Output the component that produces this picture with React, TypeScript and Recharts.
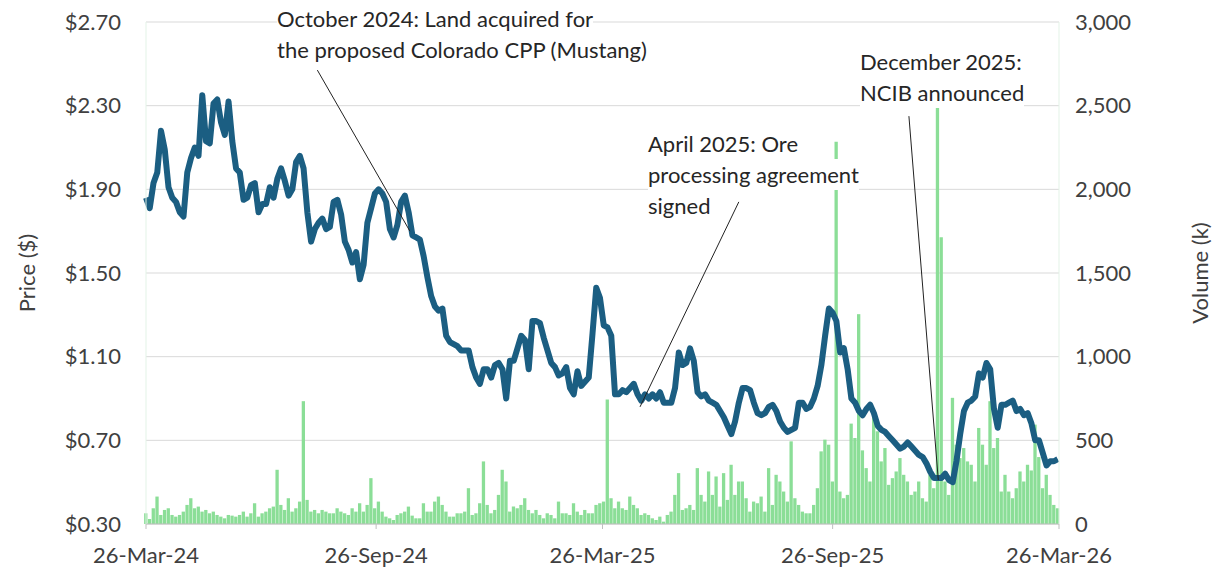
import {
  Bar,
  CartesianGrid,
  ComposedChart,
  Line,
  ReferenceLine,
  XAxis,
  YAxis,
} from "recharts";

const FONT = "Lato, 'Open Sans', sans-serif";
const DAY_MS = 86400000;
const START = Date.parse("2024-03-26");
const STEP_DAYS = 3;

// closing price ($), one reading every 3 days from 26-Mar-24
const prices = [
  1.86, 1.81, 1.93, 1.98, 2.18, 2.09, 1.91, 1.86, 1.84, 1.79, 1.77, 1.98,
  2.05, 2.1, 2.06, 2.35, 2.13, 2.12, 2.31, 2.33, 2.22, 2.16, 2.32, 2.13,
  2.0, 1.98, 1.85, 1.86, 1.92, 1.93, 1.79, 1.83, 1.83, 1.91, 1.86, 1.95,
  2.0, 1.94, 1.87, 1.9, 2.03, 2.06, 2.0, 1.79, 1.65, 1.71, 1.74, 1.76,
  1.71, 1.72, 1.84, 1.85, 1.78, 1.65, 1.61, 1.55, 1.6, 1.47, 1.54, 1.74,
  1.81, 1.88, 1.9, 1.88, 1.84, 1.71, 1.67, 1.73, 1.84, 1.87, 1.79, 1.68,
  1.67, 1.66, 1.58, 1.48, 1.39, 1.34, 1.32, 1.33, 1.2, 1.17, 1.16, 1.15,
  1.13, 1.13, 1.13, 1.05, 1.0, 0.97, 1.04, 1.04, 1.0, 1.06, 1.07, 1.04,
  0.9, 1.08, 1.08, 1.14, 1.2, 1.18, 1.04, 1.27, 1.27, 1.26, 1.19, 1.13,
  1.07, 1.05, 1.01, 1.02, 1.05, 0.95, 0.92, 1.03, 0.96, 0.98, 1.0, 1.21,
  1.43, 1.38, 1.25, 1.24, 1.2, 0.92, 0.92, 0.94, 0.93, 0.95, 0.97, 0.92,
  0.89, 0.92, 0.9, 0.92, 0.9, 0.93, 0.88, 0.88, 0.88, 0.95, 1.12, 1.06,
  1.07, 1.14, 1.08, 0.93, 0.91, 0.92, 0.89, 0.88, 0.87, 0.84, 0.81, 0.77,
  0.73, 0.79, 0.88, 0.95, 0.95, 0.94, 0.88, 0.83, 0.82, 0.83, 0.86, 0.87,
  0.84, 0.79, 0.76, 0.74, 0.75, 0.76, 0.88, 0.88, 0.85, 0.86, 0.9, 0.96,
  1.06, 1.2, 1.33, 1.31, 1.27, 1.12, 1.14, 1.04, 0.9, 0.88, 0.84, 0.82,
  0.85, 0.87, 0.83, 0.77, 0.75, 0.74, 0.72, 0.7, 0.68, 0.66, 0.67, 0.69,
  0.67, 0.65, 0.63, 0.62, 0.59, 0.55, 0.52, 0.52, 0.52, 0.54, 0.51, 0.5,
  0.6, 0.73, 0.84, 0.88, 0.89, 0.91, 1.02, 1.0, 1.07, 1.04, 0.85, 0.76,
  0.87, 0.87, 0.88, 0.89, 0.84, 0.85, 0.82, 0.83, 0.78, 0.7, 0.7, 0.64,
  0.58, 0.6, 0.6, 0.61,
];

// volume (thousands of shares), same dates as prices
const volumes = [
  64, 30, 94, 164, 54, 84, 94, 54, 44, 54, 74, 114,
  154, 94, 104, 74, 84, 64, 74, 54, 44, 34, 54, 50,
  44, 54, 74, 44, 64, 124, 44, 64, 74, 94, 104, 324,
  114, 84, 154, 74, 94, 134, 734, 144, 74, 84, 64, 84,
  74, 64, 64, 94, 74, 64, 54, 94, 74, 124, 74, 114,
  274, 94, 134, 74, 44, 34, 24, 54, 64, 74, 104, 50,
  34, 34, 124, 74, 74, 134, 164, 114, 74, 44, 44, 64,
  64, 74, 214, 54, 64, 124, 374, 114, 64, 84, 174, 324,
  254, 74, 104, 94, 114, 154, 84, 64, 84, 54, 34, 64,
  54, 34, 134, 64, 64, 54, 124, 74, 54, 84, 64, 64,
  114, 124, 134, 744, 154, 94, 134, 94, 84, 164, 114, 94,
  54, 64, 54, 34, 24, 44, 14, 54, 74, 174, 304, 84,
  94, 114, 84, 334, 174, 134, 314, 174, 284, 104, 304, 144,
  354, 174, 254, 254, 154, 74, 134, 124, 164, 74, 334, 114,
  294, 254, 194, 134, 494, 154, 114, 74, 64, 64, 114, 214,
  434, 504, 474, 254, 2284, 194, 154, 174, 600, 514, 1254, 440,
  334, 254, 654, 554, 374, 454, 234, 274, 314, 394, 294, 254,
  174, 194, 254, 154, 134, 294, 214, 2594, 1714, 254, 174, 754,
  474, 394, 454, 374, 354, 254, 574, 474, 354, 734, 454, 514,
  194, 294, 194, 154, 214, 314, 254, 354, 320, 594, 400, 214,
  294, 174, 114, 94,
];

const tickDates = ["2024-03-26", "2024-09-26", "2025-03-26", "2025-09-26", "2026-03-26"];
const tickLabels = ["26-Mar-24", "26-Sep-24", "26-Mar-25", "26-Sep-25", "26-Mar-26"];
const priceTicks = [0.3, 0.7, 1.1, 1.5, 1.9, 2.3, 2.7];
const volumeTicks = [0, 500, 1000, 1500, 2000, 2500, 3000];

// leader lines: [day, price] at the text end and at the chart end
const notes = [
  {
    lines: ["October 2024: Land acquired for", "the proposed Colorado CPP (Mustang)"],
    from: [137, 2.47],
    to: [211, 1.7],
    left: 277,
    top: 3,
  },
  {
    lines: ["April 2025: Ore", "processing agreement", "signed"],
    from: [474, 1.84],
    to: [395, 0.86],
    left: 648,
    top: 128,
  },
  {
    lines: ["December 2025:", "NCIB announced"],
    from: [610, 2.25],
    to: [633.5, 0.51],
    left: 860,
    top: 46,
  },
];

const toDay = (iso: string) => Math.round((Date.parse(iso) - START) / DAY_MS);
const tickDays = tickDates.map(toDay);

const chartData = prices.map((price, i) => ({
  day: i * STEP_DAYS,
  price,
  volume: volumes[i],
}));

const tickStyle = { fontSize: 22, fill: "#404040", fontFamily: FONT };

export default function App() {
  return (
    <div
      style={{
        position: "absolute",
        left: 0,
        top: 0,
        width: 1223,
        height: 569,
        background: "#fff",
        fontFamily: FONT,
      }}
    >
      <ComposedChart
        width={1223}
        height={569}
        data={chartData}
        margin={{ top: 22, right: 0, bottom: 0, left: 0 }}
      >
        <CartesianGrid yAxisId="price" vertical={false} stroke="#D9D9D9" />
        <XAxis
          dataKey="day"
          type="number"
          domain={[0, tickDays[tickDays.length - 1]]}
          ticks={tickDays}
          interval={0}
          tickFormatter={(d: number) => tickLabels[tickDays.indexOf(d)] ?? ""}
          height={45}
          tickSize={5}
          tickMargin={18}
          axisLine={{ stroke: "#BFBFBF" }}
          tickLine={{ stroke: "#BFBFBF" }}
          tick={tickStyle}
        />
        <YAxis
          yAxisId="price"
          orientation="left"
          width={146}
          domain={[0.3, 2.7]}
          ticks={priceTicks}
          interval={0}
          tickFormatter={(v: number) => `$${v.toFixed(2)}`}
          tickSize={0}
          tickMargin={25}
          axisLine={{ stroke: "#E3F3E7" }}
          tick={tickStyle}
          label={{
            value: "Price ($)",
            angle: -90,
            position: "insideLeft",
            offset: 27,
            style: { textAnchor: "middle", fontSize: 22, fill: "#404040", fontFamily: FONT },
          }}
        />
        <YAxis
          yAxisId="volume"
          orientation="right"
          width={164}
          domain={[0, 3000]}
          ticks={volumeTicks}
          interval={0}
          tickFormatter={(v: number) => v.toLocaleString("en-US")}
          tickSize={0}
          tickMargin={16}
          axisLine={{ stroke: "#E3F3E7" }}
          tick={tickStyle}
          label={{
            value: "Volume (k)",
            angle: -90,
            position: "insideRight",
            offset: 23,
            style: { textAnchor: "middle", fontSize: 22, fill: "#404040", fontFamily: FONT },
          }}
        />
        <Bar
          yAxisId="volume"
          dataKey="volume"
          fill="#8BDE97"
          barSize={3.3}
          isAnimationActive={false}
        />
        <Line
          yAxisId="price"
          dataKey="price"
          type="linear"
          stroke="#1B5E82"
          strokeWidth={6}
          strokeLinejoin="round"
          dot={false}
          activeDot={false}
          isAnimationActive={false}
        />
        {notes.map((n, i) => (
          <ReferenceLine
            key={i}
            yAxisId="price"
            segment={[
              { x: n.from[0], y: n.from[1] },
              { x: n.to[0], y: n.to[1] },
            ]}
            stroke="#222"
            strokeWidth={1}
          />
        ))}
      </ComposedChart>
      {notes.map((n, i) => (
        <div
          key={i}
          style={{
            position: "absolute",
            left: n.left,
            top: n.top,
            fontSize: 22,
            lineHeight: "31px",
            color: "#262626",
            whiteSpace: "nowrap",
          }}
        >
          {n.lines.map((t, j) => (
            <div key={j} style={{ width: "fit-content", background: "#fff" }}>
              {t}
            </div>
          ))}
        </div>
      ))}
    </div>
  );
}
